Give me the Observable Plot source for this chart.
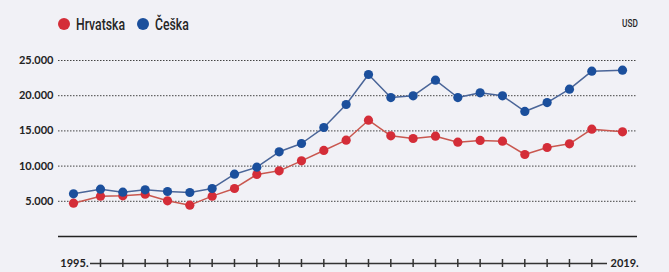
<!DOCTYPE html>
<html>
<head>
<meta charset="utf-8">
<script src="https://cdn.jsdelivr.net/npm/d3@7"></script>
<script src="https://cdn.jsdelivr.net/npm/@observablehq/plot@0.6"></script>
<style>
  html, body { margin: 0; padding: 0; background: #f1f1f6; }
  #wrap { width: 669px; height: 272px; position: relative; overflow: hidden; background: #f1f1f6; }
  #head { position: relative; height: 40px; }
  .sw { position: absolute; top: 18px; width: 12px; height: 12px; border-radius: 50%; }
  .lt { position: absolute; top: 14px; font-family: Roboto, "DejaVu Sans", sans-serif; font-size: 17px; font-weight: 500; color: #262626; transform: scaleX(0.72); transform-origin: left center; white-space: nowrap; line-height: 20px; }
  #usd { position: absolute; top: 18px; left: 622px; font-family: Roboto, "DejaVu Sans", sans-serif; font-size: 11px; font-weight: 500; color: #262626; transform: scaleX(0.75); transform-origin: left center; line-height: 12px; }
  svg { display: block; }
</style>
</head>
<body>
<div id="wrap">
  <div id="head"></div>
  <div id="chart"></div>
</div>
<script>
const years = [1995,1996,1997,1998,1999,2000,2001,2002,2003,2004,2005,2006,2007,2008,2009,2010,2011,2012,2013,2014,2015,2016,2017,2018,2019];
const hrvatska = [4730,5730,5780,6010,5070,4450,5730,6820,8810,9330,10750,12220,13680,16520,14300,13920,14250,13400,13640,13540,11650,12640,13160,15240,14870];
const ceska = [6060,6720,6300,6630,6390,6250,6820,8850,9850,12030,13210,15480,18750,23010,19740,19980,22200,19740,20410,19980,17760,19030,20930,23480,23620];
const seriesNames = ["Hrvatska", "Češka"];
const seriesColors = ["#d42d38", "#1b4f9c"];
const lineColors = ["#c9574f", "#4a6598"];
const yTicks = [5000, 10000, 15000, 20000, 25000];
const unitLabel = "USD";

const head = document.getElementById("head");
const legendDotX = [58, 137];
seriesNames.forEach((n, i) => {
  const s = document.createElement("span");
  s.className = "sw";
  s.style.left = legendDotX[i] + "px";
  s.style.background = seriesColors[i];
  head.appendChild(s);
  const t = document.createElement("span");
  t.className = "lt";
  t.style.left = (legendDotX[i] + 18) + "px";
  t.textContent = n;
  head.appendChild(t);
});
const u = document.createElement("div");
u.id = "usd"; u.textContent = unitLabel; head.appendChild(u);

const rows = [];
years.forEach((y, i) => {
  rows.push({year: y, value: hrvatska[i], s: seriesNames[0]});
  rows.push({year: y, value: ceska[i], s: seriesNames[1]});
});

const fmt = d3.formatLocale({thousands: ".", decimal: ",", grouping: [3], currency: ["", ""]}).format(",d");
const inner = years.slice(1, -1);
const ends = [years[0], years[years.length - 1]];

const plot = Plot.plot({
  width: 669,
  height: 232,
  marginLeft: 58,
  marginRight: 32,
  marginTop: 20,
  marginBottom: 36,
  style: {background: "#f1f1f6", fontFamily: "Lato, 'DejaVu Sans', sans-serif"},
  x: {type: "linear", domain: [1995, 1996, 2018, 2019], range: [73, 100, 591.3, 622], axis: null},
  y: {domain: [0, 25000], axis: null},
  color: {domain: seriesNames, range: seriesColors},
  marks: [
    Plot.ruleY(yTicks, {stroke: "#444", strokeWidth: 1, strokeDasharray: "1.5,1.5"}),
    Plot.ruleY([0], {stroke: "#222", strokeWidth: 1.3}),
    Plot.axisY(yTicks, {anchor: "left", tickSize: 0, tickPadding: 5, tickFormat: fmt, fontSize: 11, fontWeight: 700, fill: "#222", label: null}),
    Plot.line(rows, {x: "year", y: "value", z: "s", stroke: d => lineColors[seriesNames.indexOf(d.s)], strokeWidth: 1.5}),
    Plot.dot(rows, {x: "year", y: "value", fill: "s", r: 4.6}),
    Plot.ruleY([0], {x1: years[0], x2: years[years.length - 1], dy: 27, insetLeft: 17, insetRight: 15, stroke: "#333", strokeWidth: 1.5}),
    Plot.ruleX(inner, {x: d => d, y1: 0, y2: 0, dy: 27, insetTop: -4, insetBottom: -4, stroke: "#333", strokeWidth: 1.5}),
    Plot.text([ends[0]], {x: d => d, y: 0, dy: 27, dx: 15, text: d => d + ".", textAnchor: "end", fontSize: 11, fontWeight: 700, fill: "#222"}),
    Plot.text([ends[1]], {x: d => d, y: 0, dy: 27, dx: -12, text: d => d + ".", textAnchor: "start", fontSize: 11, fontWeight: 700, fill: "#222"})
  ]
});
document.getElementById("chart").appendChild(plot);
</script>
</body>
</html>
